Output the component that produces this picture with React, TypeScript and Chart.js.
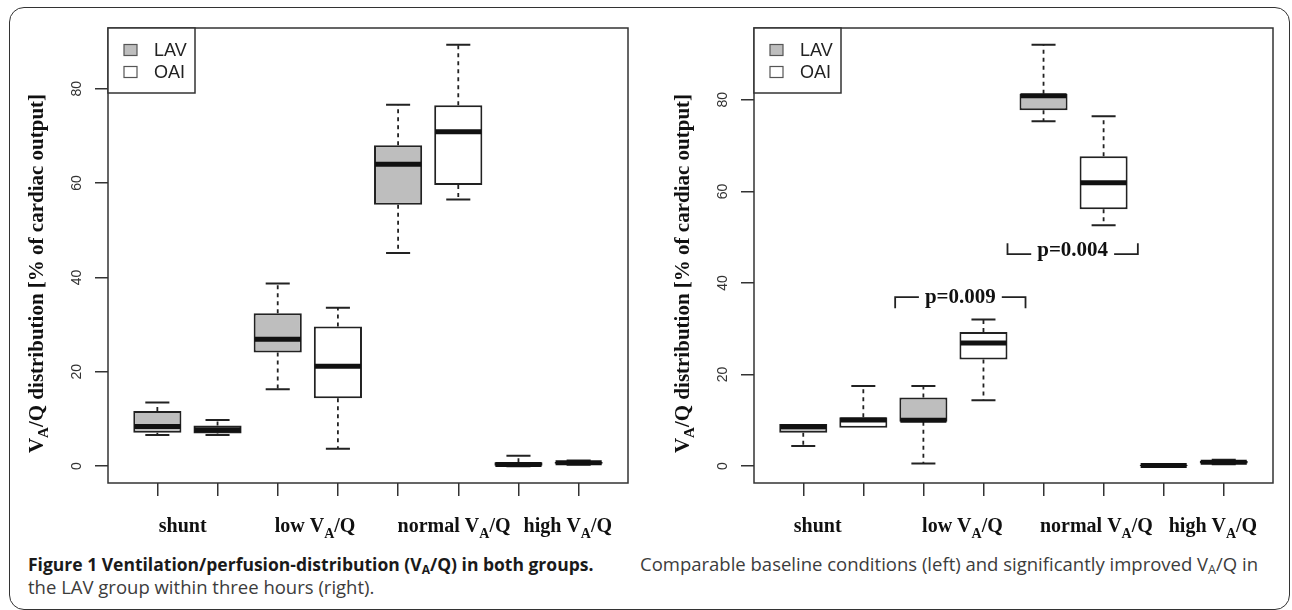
import React, { useEffect, useRef } from 'react';
import { Chart, registerables } from 'chart.js';

Chart.register(...registerables);

// ---------- data ----------
const categories = ['shunt', 'low V_A/Q', 'normal V_A/Q', 'high V_A/Q'];
const groupNames = ['LAV', 'OAI'];
const yTicks = [0, 20, 40, 60, 80];
const yAxisTitle = 'V_A/Q distribution [% of cardiac output]';

// five-number summaries per category: [lower whisker, Q1, median, Q3, upper whisker]
const baselineLAV = [
  [6.6, 7.1, 8.4, 11.7, 13.5],
  [16.3, 24.1, 26.9, 32.4, 38.7],
  [45.2, 55.4, 64.0, 68.0, 76.6],
  [0.0, 0.1, 0.35, 0.8, 2.2],
];
const baselineOAI = [
  [6.6, 6.9, 7.7, 8.6, 9.8],
  [3.7, 14.4, 21.2, 29.6, 33.6],
  [56.5, 59.6, 70.9, 76.5, 89.3],
  [0.3, 0.5, 0.7, 0.9, 1.2],
];
const threeHoursLAV = [
  [4.4, 7.3, 8.6, 9.2, 9.2],
  [0.6, 9.7, 10.0, 15.0, 17.5],
  [75.3, 77.7, 80.9, 81.3, 92.0],
  [0.0, 0.05, 0.15, 0.3, 0.35],
];
const threeHoursOAI = [
  [8.4, 8.4, 10.1, 10.7, 17.5],
  [14.4, 23.3, 26.9, 29.3, 32.0],
  [52.6, 56.1, 61.9, 67.7, 76.4],
  [0.4, 0.6, 0.85, 1.1, 1.4],
];

// significance brackets (right panel)
const pValueLabels = ['p=0.009', 'p=0.004'];
const pValueSpans = [
  [2.53, 4.7],
  [4.4, 6.57],
];
const pValueLineLevels = [36.9, 46.3];
const pValueTextLevels = [35.6, 45.9];
const pValueBracketDir = [1, -1]; // 1: ends point down, -1: ends point up

// category label anchor positions (in box index units)
const leftLabelPos = [1.42, 3.62, 5.93, 7.82];
const rightLabelPos = [1.24, 3.65, 5.88, 7.82];

// caption text
const captionTitle = ['Figure 1 Ventilation/perfusion-distribution (V', 'A', '/Q) in both groups.'];
const captionLine1 = ['Comparable baseline conditions (left) and significantly improved V', 'A', '/Q in'];
const captionLine2 = 'the LAV group within three hours (right).';

// ---------- styles ----------
const SANS = '"Liberation Sans", Arial, Helvetica, sans-serif';
const SERIF = '"Liberation Serif", "Times New Roman", serif';
const INK = '#222222';
const GREY_FILL = '#bebebe';

type Part = { t: string; sub: boolean };

function splitRich(text: string): Part[] {
  const parts: Part[] = [];
  let buf = '';
  for (let i = 0; i < text.length; i++) {
    if (text[i] === '_' && i + 1 < text.length) {
      if (buf) parts.push({ t: buf, sub: false });
      buf = '';
      parts.push({ t: text[i + 1], sub: true });
      i++;
    } else buf += text[i];
  }
  if (buf) parts.push({ t: buf, sub: false });
  return parts;
}

function drawRich(
  ctx: CanvasRenderingContext2D,
  text: string,
  x: number,
  y: number,
  size: number,
  weight: string,
  family: string,
  baseline: CanvasTextBaseline
) {
  const parts = splitRich(text);
  const fontN = `${weight} ${size}px ${family}`;
  const fontS = `${weight} ${Math.round(size * 0.7)}px ${family}`;
  let total = 0;
  const widths = parts.map((p) => {
    ctx.font = p.sub ? fontS : fontN;
    const w = ctx.measureText(p.t).width;
    total += w;
    return w;
  });
  let cx = x - total / 2;
  ctx.textAlign = 'left';
  ctx.textBaseline = baseline;
  parts.forEach((p, i) => {
    ctx.font = p.sub ? fontS : fontN;
    ctx.fillText(p.t, cx, y + (p.sub ? size * 0.28 : 0));
    cx += widths[i];
  });
}

type PanelSpec = {
  lav: number[][];
  oai: number[][];
  labelPos: number[];
  withPValues: boolean;
};

function makePlugin(spec: PanelSpec) {
  return {
    id: 'boxDecor',
    afterDatasetsDraw(chart: any) {
      const { ctx, chartArea: ca, scales } = chart;
      const x = scales.x;
      const y = scales.y;
      const groups = [spec.lav, spec.oai];
      ctx.save();
      ctx.strokeStyle = INK;
      ctx.lineCap = 'butt';

      // whiskers, caps, medians
      groups.forEach((stats, d) => {
        const meta = chart.getDatasetMeta(d);
        stats.forEach((s, i) => {
          const el = meta.data[i];
          const cx = el.x;
          const w = el.width;
          const [mn, q1, med, q3, mx] = s;
          ctx.lineWidth = 1.8;
          ctx.setLineDash([4, 4]);
          ctx.beginPath();
          if (mx > q3) {
            ctx.moveTo(cx, y.getPixelForValue(q3));
            ctx.lineTo(cx, y.getPixelForValue(mx));
          }
          if (mn < q1) {
            ctx.moveTo(cx, y.getPixelForValue(q1));
            ctx.lineTo(cx, y.getPixelForValue(mn));
          }
          ctx.stroke();
          ctx.setLineDash([]);
          ctx.lineWidth = 2;
          ctx.beginPath();
          if (mx > q3) {
            ctx.moveTo(cx - w / 4, y.getPixelForValue(mx));
            ctx.lineTo(cx + w / 4, y.getPixelForValue(mx));
          }
          if (mn < q1) {
            ctx.moveTo(cx - w / 4, y.getPixelForValue(mn));
            ctx.lineTo(cx + w / 4, y.getPixelForValue(mn));
          }
          ctx.stroke();
          ctx.lineWidth = 5;
          ctx.strokeStyle = '#111';
          ctx.beginPath();
          ctx.moveTo(cx - w / 2 + 1, y.getPixelForValue(med));
          ctx.lineTo(cx + w / 2 - 1, y.getPixelForValue(med));
          ctx.stroke();
          ctx.strokeStyle = INK;
        });
      });

      // plot frame
      ctx.lineWidth = 1.5;
      ctx.strokeStyle = '#333';
      ctx.strokeRect(ca.left, ca.top, ca.right - ca.left, ca.bottom - ca.top);

      // legend
      const lw = 87;
      const lh = 65;
      ctx.fillStyle = '#fff';
      ctx.fillRect(ca.left, ca.top, lw, lh);
      ctx.strokeRect(ca.left, ca.top, lw, lh);
      const fills = [GREY_FILL, '#ffffff'];
      groupNames.forEach((name, i) => {
        const cy = ca.top + 22 + i * 22;
        ctx.fillStyle = fills[i];
        ctx.fillRect(ca.left + 16, cy - 5.5, 13, 11);
        ctx.lineWidth = 1.2;
        ctx.strokeStyle = '#555';
        ctx.strokeRect(ca.left + 16, cy - 5.5, 13, 11);
        ctx.fillStyle = INK;
        ctx.font = `18px ${SANS}`;
        ctx.textAlign = 'left';
        ctx.textBaseline = 'middle';
        ctx.fillText(name, ca.left + 46, cy + 1);
      });

      // y tick labels (rotated, as in R)
      ctx.fillStyle = '#333';
      ctx.font = `14px ${SANS}`;
      y.ticks.forEach((t: any) => {
        const py = y.getPixelForValue(t.value);
        ctx.save();
        ctx.translate(ca.left - 31, py);
        ctx.rotate(-Math.PI / 2);
        ctx.textAlign = 'center';
        ctx.textBaseline = 'middle';
        ctx.fillText(String(t.value), 0, 0);
        ctx.restore();
      });

      // y axis title
      ctx.fillStyle = '#111';
      ctx.save();
      ctx.translate(ca.left - 70, (ca.top + ca.bottom) / 2 + 18);
      ctx.rotate(-Math.PI / 2);
      drawRich(ctx, yAxisTitle, 0, 0, 21, 'bold', SERIF, 'middle');
      ctx.restore();

      // category labels
      categories.forEach((c, i) => {
        drawRich(ctx, c, x.getPixelForValue(spec.labelPos[i]), ca.bottom + 49, 20, 'bold', SERIF, 'alphabetic');
      });

      // significance brackets
      if (spec.withPValues) {
        pValueLabels.forEach((lab, i) => {
          const xa = x.getPixelForValue(pValueSpans[i][0]);
          const xb = x.getPixelForValue(pValueSpans[i][1]);
          const ly = y.getPixelForValue(pValueLineLevels[i]);
          const ty = y.getPixelForValue(pValueTextLevels[i]);
          const dir = pValueBracketDir[i];
          ctx.font = `bold 21px ${SERIF}`;
          const tw = ctx.measureText(lab).width;
          const tc = (xa + xb) / 2;
          ctx.lineWidth = 1.8;
          ctx.strokeStyle = INK;
          ctx.beginPath();
          ctx.moveTo(xa, ly + dir * 11);
          ctx.lineTo(xa, ly);
          ctx.lineTo(tc - tw / 2 - 6, ly);
          ctx.moveTo(tc + tw / 2 + 6, ly);
          ctx.lineTo(xb, ly);
          ctx.lineTo(xb, ly + dir * 11);
          ctx.stroke();
          ctx.fillStyle = '#111';
          ctx.textAlign = 'center';
          ctx.textBaseline = 'alphabetic';
          ctx.fillText(lab, tc, ty);
        });
      }
      ctx.restore();
    },
  };
}

function makeConfig(spec: PanelSpec, padRight: number): any {
  const all = [...spec.lav, ...spec.oai].flat();
  const lo = Math.min(...all);
  const hi = Math.max(...all);
  const pad = (hi - lo) * 0.04;
  const nBoxes = categories.length * groupNames.length;
  const xlo = 0.5 - 0.04 * nBoxes;
  const xhi = nBoxes + 0.5 + 0.04 * nBoxes;
  const boxPositions = Array.from({ length: nBoxes }, (_, i) => i + 1);

  const ds = (stats: number[][], g: number, fill: string) => ({
    label: groupNames[g],
    data: stats.map((s, i) => ({ x: i * 2 + g + 1, y: [s[1], s[3]] })),
    backgroundColor: fill,
    borderColor: INK,
    borderWidth: 2,
    borderSkipped: false,
    grouped: false,
    categoryPercentage: 1,
    barPercentage: 0.8,
  });

  const gridStyle = {
    display: true,
    drawOnChartArea: false,
    drawTicks: true,
    tickLength: 13,
    color: '#333',
    lineWidth: 1.5,
    offset: false,
  };

  return {
    type: 'bar',
    data: {
      datasets: [ds(spec.lav, 0, GREY_FILL), ds(spec.oai, 1, '#ffffff')],
    },
    options: {
      responsive: false,
      animation: false,
      events: [],
      layout: { padding: { left: 108, top: 28, right: padRight, bottom: 62 } },
      plugins: { legend: { display: false }, tooltip: { enabled: false }, title: { display: false } },
      scales: {
        x: {
          type: 'linear',
          min: xlo,
          max: xhi,
          offset: false,
          afterBuildTicks: (s: any) => {
            s.ticks = boxPositions.map((v) => ({ value: v }));
          },
          afterFit: (s: any) => {
            s.height = 0;
          },
          ticks: { display: false },
          grid: gridStyle,
          border: { display: false },
        },
        y: {
          type: 'linear',
          min: lo - pad,
          max: hi + pad,
          afterBuildTicks: (s: any) => {
            s.ticks = yTicks.map((v) => ({ value: v }));
          },
          afterFit: (s: any) => {
            s.width = 0;
          },
          ticks: { display: false },
          grid: gridStyle,
          border: { display: false },
        },
      },
    },
    plugins: [makePlugin(spec)],
  };
}

function Panel({ spec, left, padRight }: { spec: PanelSpec; left: number; padRight: number }) {
  const ref = useRef<HTMLCanvasElement | null>(null);
  useEffect(() => {
    if (!ref.current) return;
    const chart = new Chart(ref.current, makeConfig(spec, padRight));
    return () => chart.destroy();
  }, []);
  return (
    <canvas
      ref={ref}
      width={646}
      height={545}
      style={{ position: 'absolute', left, top: 0, width: 646, height: 545 }}
    />
  );
}

const Sub = ({ children, size }: { children: React.ReactNode; size: number }) => (
  <span style={{ fontSize: `${size}px`, position: 'relative', top: '3px', lineHeight: 0 }}>{children}</span>
);

const captionBase: React.CSSProperties = {
  position: 'absolute',
  fontFamily: '"Open Sans", "Noto Sans", sans-serif',
  lineHeight: '24px',
  whiteSpace: 'nowrap',
};

export default function App() {
  const leftSpec: PanelSpec = { lav: baselineLAV, oai: baselineOAI, labelPos: leftLabelPos, withPValues: false };
  const rightSpec: PanelSpec = { lav: threeHoursLAV, oai: threeHoursOAI, labelPos: rightLabelPos, withPValues: true };
  return (
    <div
      style={{
        position: 'fixed',
        left: 0,
        top: 0,
        width: 1292,
        height: 610,
        background: '#fff',
        overflow: 'hidden',
      }}
    >
      <div
        style={{
          position: 'absolute',
          left: 9,
          top: 7,
          width: 1281,
          height: 603,
          boxSizing: 'border-box',
          border: '1.5px solid #333',
          borderRadius: 15,
        }}
      />
      <Panel spec={leftSpec} left={0} padRight={18} />
      <Panel spec={rightSpec} left={646} padRight={19} />
      <div style={{ ...captionBase, left: 28, top: 552, fontSize: 17.5, fontWeight: 700, color: '#1a1a1a' }}>
        {captionTitle[0]}
        <Sub size={12}>{captionTitle[1]}</Sub>
        {captionTitle[2]}
      </div>
      <div style={{ ...captionBase, left: 640, top: 552, fontSize: 18.5, color: '#3c3c3c' }}>
        {captionLine1[0]}
        <Sub size={12.5}>{captionLine1[1]}</Sub>
        {captionLine1[2]}
      </div>
      <div style={{ ...captionBase, left: 28, top: 575, fontSize: 18.5, color: '#3c3c3c' }}>{captionLine2}</div>
    </div>
  );
}
